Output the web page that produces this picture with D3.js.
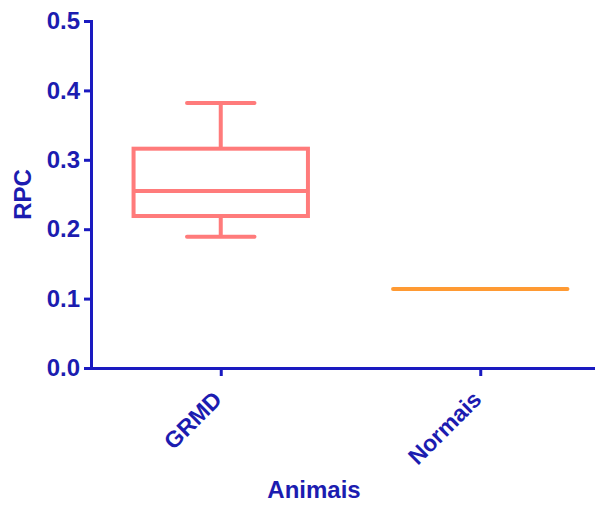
<!doctype html>
<html lang="en">
<head>
<meta charset="utf-8">
<title>RPC - Animais</title>
<script src="https://d3js.org/d3.v7.min.js"></script>
<style>
  body { margin: 0; background: #fff; }
  svg { display: block; }
  text { font-family: Arial, 'Liberation Sans', sans-serif; font-weight: bold; fill: #1c1cb0; }
  .axis path, .axis line { stroke: #1a1ac0; }
</style>
</head>
<body>
<svg width="595" height="507"></svg>
<script>
// data
const groups = ['GRMD', 'Normais'];
const boxMin = [0.189, 0.114];
const boxQ1 = [0.219, 0.114];
const boxMedian = [0.255, 0.114];
const boxQ3 = [0.316, 0.114];
const boxMax = [0.382, 0.114];
const groupColors = ['#ff7b7b', '#ff9a33'];
const yTicks = [0, 0.1, 0.2, 0.3, 0.4, 0.5];

const svg = d3.select('svg');
const mLeft = 91, mRight = 610, mTop = 21, mBottom = 368;

const x = d3.scalePoint().domain(groups).range([mLeft, mRight]).padding(0.5);
const y = d3.scaleLinear().domain([0, 0.5]).range([mBottom, mTop]);
const boxW = x.step() * 0.672;
const capW = x.step() * 0.26;

const data = groups.map((g, i) => ({
  g, min: boxMin[i], q1: boxQ1[i], med: boxMedian[i], q3: boxQ3[i], max: boxMax[i], color: groupColors[i]
}));

const boxes = svg.append('g').selectAll('g')
  .data(data)
  .enter()
  .append('g')
  .attr('fill', 'none')
  .attr('stroke', d => d.color)
  .attr('stroke-width', 4);

// whiskers
boxes.filter(d => d.max > d.q3).append('line')
  .attr('x1', d => x(d.g)).attr('x2', d => x(d.g))
  .attr('y1', d => y(d.q3)).attr('y2', d => y(d.max));
boxes.filter(d => d.min < d.q1).append('line')
  .attr('x1', d => x(d.g)).attr('x2', d => x(d.g))
  .attr('y1', d => y(d.q1)).attr('y2', d => y(d.min));
boxes.filter(d => d.max > d.q3).append('line')
  .attr('stroke-linecap', 'round')
  .attr('x1', d => x(d.g) - capW / 2).attr('x2', d => x(d.g) + capW / 2)
  .attr('y1', d => y(d.max)).attr('y2', d => y(d.max));
boxes.filter(d => d.min < d.q1).append('line')
  .attr('stroke-linecap', 'round')
  .attr('x1', d => x(d.g) - capW / 2).attr('x2', d => x(d.g) + capW / 2)
  .attr('y1', d => y(d.min)).attr('y2', d => y(d.min));

// box
boxes.filter(d => d.q3 > d.q1).append('rect')
  .attr('x', d => x(d.g) - boxW / 2)
  .attr('y', d => y(d.q3))
  .attr('width', boxW)
  .attr('height', d => y(d.q1) - y(d.q3));

// median
boxes.append('line')
  .attr('stroke-linecap', d => d.q3 > d.q1 ? 'butt' : 'round')
  .attr('x1', d => x(d.g) - boxW / 2).attr('x2', d => x(d.g) + boxW / 2)
  .attr('y1', d => y(d.med)).attr('y2', d => y(d.med));

// axes
const yAxis = svg.append('g')
  .attr('class', 'axis')
  .attr('transform', `translate(${mLeft},0)`)
  .call(d3.axisLeft(y).tickValues(yTicks).tickFormat(d3.format('.1f')).tickSize(7).tickSizeOuter(7).tickPadding(4));
yAxis.select('.domain').attr('stroke-width', 3);
yAxis.selectAll('.tick line').attr('stroke-width', 3);
yAxis.selectAll('.tick text').style('font-size', '24px').attr('fill', '#1c1cb0');

const xAxis = svg.append('g')
  .attr('class', 'axis')
  .attr('transform', `translate(0,${mBottom})`)
  .call(d3.axisBottom(x).tickSize(8).tickSizeOuter(0));
xAxis.select('.domain').attr('stroke-width', 3);
xAxis.selectAll('.tick line').attr('stroke-width', 3);
xAxis.selectAll('.tick text')
  .style('font-size', '23px')
  .attr('fill', '#1c1cb0')
  .attr('text-anchor', 'end')
  .attr('dy', 0)
  .attr('transform', 'translate(2,33) rotate(-45)')
  .attr('y', 0)
  .attr('x', 0);

// axis titles
svg.append('text')
  .attr('transform', `translate(31,${(mTop + mBottom) / 2}) rotate(-90)`)
  .attr('text-anchor', 'middle')
  .style('font-size', '24px')
  .text('RPC');

svg.append('text')
  .attr('x', 314)
  .attr('y', 498)
  .attr('text-anchor', 'middle')
  .style('font-size', '24px')
  .text('Animais');
</script>
</body>
</html>
